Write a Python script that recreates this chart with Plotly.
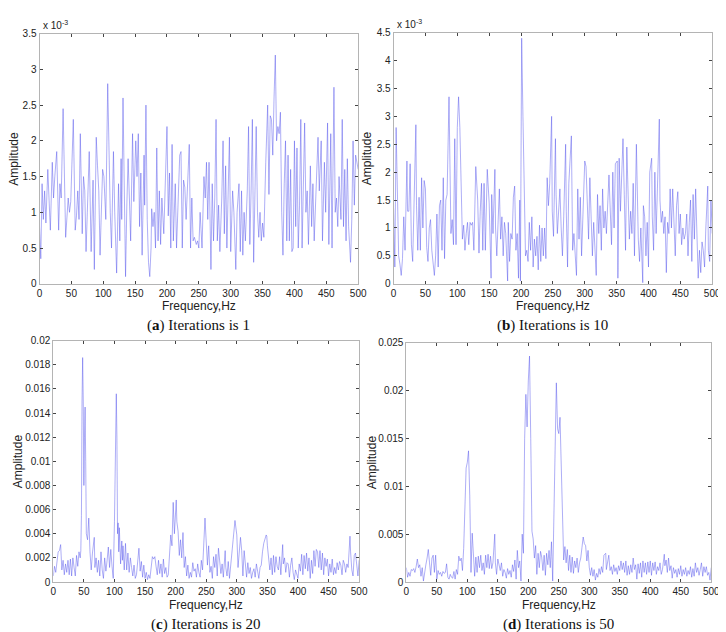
import plotly.graph_objects as go

# ---------------- data (amplitude of a/b in units of 1e-3, c/d in units of 1e-3 too) ----------------
freq_a = [0,2,4,6,8,10,13,15,17,20,22,24,27,30,32,34,37,41,43,45,47,49,53,56,58,60,62,64,67,69,71,73,75,78,81,84,86,89,91,93,95,97,99,101,104,107,109,111,113,116,118,121,124,126,128,129,131,133,135,137,139,141,143,146,148,151,153,155,157,159,161,164,165,167,169,171,173,175,176,178,180,182,184,186,188,190,192,195,198,200,202,204,206,208,210,213,215,218,220,222,224,226,228,230,232,235,237,239,241,243,246,248,250,252,255,258,260,262,264,266,269,271,273,275,277,279,281,283,286,288,290,292,294,296,298,300,303,305,308,310,313,315,317,319,321,323,326,328,330,332,334,336,338,340,342,344,346,348,350,352,355,358,360,362,364,366,368,370,372,374,376,378,380,382,384,386,388,390,392,394,396,398,400,402,404,406,408,410,412,414,416,418,420,422,425,427,429,431,434,437,439,442,444,447,449,452,454,457,459,462,464,466,468,470,473,475,477,479,481,483,485,488,490,492,494,496,500]
amp_a = [0.8,0.35,1.4,0.9,1.3,0.85,1.6,1.1,0.75,1.7,1.2,1.5,1.85,0.75,1.4,1.2,2.45,0.65,1.0,1.2,1.0,1.15,2.3,0.75,0.95,1.3,0.9,2.1,0.7,1.5,1.3,0.45,1.0,1.85,0.45,1.45,0.2,2.05,1.65,1.3,0.4,1.2,1.6,1.5,0.9,2.8,1.6,1.0,0.5,1.85,1.0,0.15,1.4,0.6,1.75,0.9,2.6,1.5,0.1,1.1,1.75,1.2,0.6,2.1,1.15,2.0,1.5,2.1,0.8,1.55,0.4,1.8,1.1,2.5,0.9,0.3,0.1,0.5,1.05,0.8,1.0,0.5,1.9,0.6,1.3,0.55,1.2,0.7,1.6,2.2,0.95,1.55,0.5,1.95,0.6,1.4,0.5,1.2,1.8,1.85,0.5,1.45,1.35,0.9,1.4,1.95,0.5,1.2,0.6,0.65,0.55,0.6,0.5,1.0,0.5,1.5,1.2,1.7,0.9,1.7,0.2,1.4,0.6,1.2,2.3,0.6,1.1,0.45,1.2,2.0,0.7,1.65,0.5,1.2,2.05,0.45,1.3,1.0,0.2,1.0,1.4,0.45,1.3,0.4,1.0,0.6,1.3,2.2,0.55,1.3,2.3,0.3,1.2,2.2,1.0,0.65,1.0,0.6,0.85,0.65,1.7,2.5,1.25,2.35,2.3,1.8,2.6,3.2,2.0,2.2,2.1,2.4,1.0,0.4,1.4,2.0,0.6,1.8,0.6,1.6,0.45,0.5,2.0,0.8,1.9,0.5,1.1,2.3,0.5,1.5,2.25,1.0,1.3,0.55,1.65,0.8,1.4,0.6,1.3,2.05,1.3,2.0,0.6,1.7,1.0,2.25,0.55,2.1,0.5,2.75,1.0,1.2,0.8,1.5,0.9,2.3,0.8,1.6,0.6,1.75,0.8,0.3,0.9,2.0,1.1,1.8,1.6]

freq_b = [0,2,4,6,8,10,12,14,16,18,21,22,24,26,28,30,32,35,36,38,40,42,44,46,48,50,52,54,56,58,60,62,64,66,68,70,72,74,76,78,80,82,84,87,88,90,92,94,96,98,100,102,104,106,108,110,112,114,116,118,120,122,124,126,128,129,132,134,136,138,140,142,144,146,147,150,153,154,156,159,160,162,164,166,168,170,172,174,176,179,180,182,184,186,188,190,192,194,196,198,199,201,203,205,207,209,211,213,215,217,219,221,223,225,227,229,231,233,235,237,239,241,243,245,248,249,251,254,255,257,259,261,263,265,267,270,271,273,275,279,281,283,287,289,291,293,295,300,302,304,306,308,310,312,314,318,320,322,324,326,328,330,332,334,338,340,342,344,346,348,351,352,354,356,360,362,364,366,368,370,372,374,376,378,381,382,384,386,388,391,392,394,396,398,400,402,405,406,408,410,412,414,417,418,420,422,424,426,428,430,432,434,436,438,440,442,444,446,448,450,452,454,456,458,460,462,464,466,468,470,472,474,478,480,482,484,486,488,490,493,494,496,498,500]
amp_b = [1.35,0.3,2.8,1.5,0.5,0.35,0.15,0.45,1.2,0.6,2.2,1.3,1.3,2.15,0.7,0.4,1.5,2.85,1.4,0.6,1.55,0.6,1.9,1.0,1.85,1.7,0.65,0.4,1.0,1.15,0.6,0.3,0.15,0.5,1.25,0.3,1.4,1.5,0.6,1.9,0.45,1.5,1.6,3.35,2.2,0.9,1.15,0.7,2.6,0.7,2.8,3.35,2.8,1.5,0.8,1.05,0.6,0.9,1.1,0.7,1.1,1.05,1.1,0.6,1.5,2.1,1.5,0.55,1.3,1.8,0.6,1.8,0.6,1.55,2.05,1.45,0.1,1.6,0.9,2.05,1.0,0.5,1.35,1.7,0.8,1.2,0.5,1.1,0.9,0.05,1.1,0.4,0.9,0.8,1.55,1.75,0.6,0.9,0.1,1.5,0.05,4.4,3.0,1.5,0.5,0.6,0.4,1.1,0.6,1.2,0.3,0.8,0.5,0.85,0.25,1.05,0.4,1.0,0.5,1.0,0.45,1.9,1.4,1.8,3.0,1.3,0.85,2.6,1.6,0.9,1.4,1.7,1.0,0.5,1.2,2.5,1.3,0.3,1.8,2.65,0.6,0.9,0.15,1.7,0.8,1.55,0.5,2.2,2.1,1.5,0.8,1.9,1.2,0.5,1.1,0.15,1.6,0.9,1.4,0.6,1.7,1.0,1.3,0.9,1.95,1.15,0.7,2.0,1.0,2.15,2.2,0.1,2.25,1.3,2.6,1.6,0.6,2.45,1.3,0.8,1.3,0.9,1.8,0.5,2.5,1.6,0.8,0.4,1.0,0.02,1.4,1.2,0.5,1.1,0.3,2.0,2.25,1.2,0.6,2.0,0.9,1.7,2.95,1.5,1.1,1.3,0.9,1.2,0.2,1.1,0.9,1.7,1.0,1.7,1.15,0.5,1.4,1.65,0.9,1.25,0.7,1.0,0.8,0.9,1.25,0.5,1.1,1.5,0.4,1.6,0.8,1.7,0.1,0.6,0.2,0.75,0.6,0.3,1.0,1.75,0.6,0.4,1.5,0.9]

freq_c = [0,2,4,6,8,10,12,14,16,18,20,22,24,26,28,30,32,34,36,38,40,42,44,45,46,47,48,49,50,51,52,53,54,56,58,60,62,64,67,68,70,72,74,76,78,80,82,84,86,88,90,92,94,96,98,100,101,103,104,105,106,107,108,110,112,113,114,116,118,120,122,124,126,128,130,132,134,136,140,142,144,146,148,150,152,154,156,158,160,162,164,166,168,170,172,174,176,178,180,182,184,186,188,190,192,194,196,198,201,202,204,206,208,210,212,214,216,218,220,222,224,226,228,230,232,234,236,238,240,242,244,248,249,250,252,254,256,258,260,262,264,266,268,270,272,274,276,278,281,282,284,286,288,290,292,294,297,298,300,302,304,306,308,310,312,314,316,318,320,322,324,326,328,330,332,334,336,338,340,342,344,348,349,350,352,354,356,358,360,362,364,366,368,370,372,375,376,378,380,382,384,386,388,390,392,394,396,398,400,402,404,406,408,410,412,414,416,418,420,422,424,426,428,430,432,434,436,438,440,442,444,446,448,450,452,454,456,458,460,462,464,466,468,470,472,474,476,478,480,482,485,486,488,490,492,494,496,498,500]
amp_c = [0.5,1.3,0.8,2.0,2.5,2.6,3.1,1.0,1.8,0.6,1.5,0.8,1.8,0.6,1.9,0.5,2.0,1.2,0.5,2.2,1.3,2.5,2.0,2.6,5.5,15.0,18.6,15.0,8.0,12.0,14.5,10.0,4.0,3.5,5.3,2.5,1.0,2.4,3.7,1.2,2.0,0.8,1.8,0.5,2.5,1.0,0.3,2.0,0.9,1.8,2.9,1.2,2.7,1.3,0.3,5.0,10.0,15.6,12.0,4.0,4.9,2.5,4.5,1.5,3.4,1.8,3.0,1.0,3.2,1.0,2.4,0.8,2.0,1.2,0.5,1.4,0.3,0.6,2.8,0.9,1.7,0.4,1.4,0.3,0.8,0.2,0.6,0.3,1.4,2.1,1.9,2.1,1.3,0.6,1.8,0.7,1.5,0.4,1.9,0.7,1.2,0.4,0.6,2.0,3.9,3.0,6.6,4.0,6.8,5.0,4.2,2.2,3.5,2.0,4.1,1.2,2.1,0.5,1.4,0.3,0.8,0.4,1.6,0.9,1.1,0.4,1.5,0.8,0.4,1.8,1.0,5.3,4.0,3.2,1.4,3.0,0.8,1.3,0.3,2.1,1.2,2.3,0.5,2.8,1.5,0.7,1.5,0.4,2.6,1.2,0.5,1.7,0.3,1.2,2.3,3.5,5.1,4.6,3.9,1.2,2.3,3.7,2.6,0.5,2.6,1.5,0.4,1.6,0.7,1.2,0.3,0.8,1.1,0.4,1.5,0.9,0.3,1.2,1.4,2.5,3.2,3.9,3.8,3.0,2.2,1.0,2.0,0.6,2.2,0.8,2.1,1.3,1.0,2.1,0.6,3.1,1.5,2.0,0.8,1.6,1.5,0.4,1.4,2.0,0.8,0.2,1.0,0.7,0.3,1.5,0.9,2.3,0.6,2.2,1.1,2.4,0.9,2.0,0.3,1.8,0.7,2.6,1.3,2.7,2.5,1.2,2.6,1.0,2.4,0.6,2.0,1.3,1.9,0.5,1.5,0.8,1.9,0.6,1.2,0.7,1.6,1.0,1.7,1.4,0.6,1.8,1.5,0.8,1.5,1.2,3.8,2.5,1.0,0.5,2.2,2.4,1.5,0.5,1.8]

freq_d = [0,2,4,6,8,10,12,14,16,18,20,22,24,26,28,30,32,34,36,38,40,42,44,46,48,50,52,54,56,58,60,62,64,66,68,70,72,74,76,78,80,82,84,86,88,90,92,94,96,98,100,102,104,105,106,108,110,112,114,116,118,120,122,124,126,128,130,132,134,136,138,140,142,145,146,148,150,152,154,156,158,160,162,164,166,168,170,172,174,176,178,180,182,184,186,188,190,192,194,196,198,200,202,204,206,208,210,212,214,216,218,220,222,224,226,228,230,232,234,236,238,240,242,244,246,248,250,252,254,256,258,260,262,264,266,268,270,272,274,276,278,280,282,284,286,288,290,292,294,296,298,300,302,304,306,308,310,312,314,316,318,320,322,324,327,328,330,332,334,336,338,340,342,344,346,348,350,352,354,356,358,360,362,364,366,368,370,372,374,376,378,380,382,384,386,388,390,392,394,396,398,400,402,404,406,408,410,412,414,416,418,420,423,424,426,428,430,432,434,436,438,440,442,444,446,448,450,452,454,456,458,460,462,464,466,468,470,472,474,476,478,480,482,484,486,488,490,492,494,496,498,500]
amp_d = [1.5,0.5,1.0,0.6,1.3,1.2,1.4,1.0,1.6,2.4,1.5,1.8,0.6,1.5,0.1,1.2,1.8,2.5,3.4,2.0,0.7,2.5,2.8,1.0,2.8,0.3,1.2,0.8,1.0,0.6,1.1,0.9,1.0,1.9,0.5,0.3,0.8,0.5,0.4,1.1,0.3,1.3,0.8,2.7,2.2,2.5,1.2,3.5,8.0,11.9,12.5,13.7,9.0,3.5,1.0,5.1,2.0,0.6,2.6,1.0,2.7,1.5,2.8,1.2,2.0,0.8,2.8,1.5,2.9,1.4,2.7,1.4,2.0,5.0,2.0,0.8,2.4,1.6,1.2,2.0,0.6,1.3,1.0,0.4,1.4,0.8,1.2,0.5,1.8,1.1,2.3,0.3,3.3,1.5,2.2,0.1,5.0,3.0,15.0,19.6,16.2,21.0,23.6,15.0,5.3,4.5,2.5,3.8,0.8,3.0,1.5,3.2,2.6,1.2,2.8,0.7,3.0,1.8,3.3,1.5,4.2,0.1,8.0,17.5,20.8,16.0,15.5,17.2,12.0,5.0,2.3,3.7,2.0,3.4,1.2,2.8,1.0,2.6,0.9,2.2,1.5,2.5,1.0,2.0,2.5,3.6,4.7,4.0,3.8,2.2,3.3,1.5,0.7,1.5,0.6,1.3,0.2,0.9,0.5,1.4,0.8,1.6,1.0,2.8,3.0,1.3,2.3,2.8,1.2,1.6,0.8,1.8,1.1,1.5,0.8,1.7,1.2,2.2,1.3,2.0,1.0,2.2,0.7,1.7,0.8,1.8,1.0,2.5,1.3,1.8,0.3,1.9,0.9,2.0,0.5,2.2,1.0,2.0,0.8,2.1,1.0,2.2,0.7,2.0,1.2,2.1,0.8,1.6,1.2,2.0,0.8,1.3,2.9,1.7,2.3,1.0,2.5,1.2,1.7,0.4,1.5,0.9,1.3,0.5,1.4,0.8,1.7,0.6,1.3,0.8,1.5,0.6,1.2,0.8,1.6,0.5,1.4,0.6,2.0,1.0,1.5,0.7,1.3,2.0,0.6,1.6,1.0,1.6,0.7,1.0,0.2,1.5]

captions = [("a", "1"), ("b", "10"), ("c", "20"), ("d", "50")]
x_ticks = [0, 50, 100, 150, 200, 250, 300, 350, 400, 450, 500]
y_ticks_a = [0, 0.5, 1, 1.5, 2, 2.5, 3, 3.5]
y_ticks_b = [0, 0.5, 1, 1.5, 2, 2.5, 3, 3.5, 4, 4.5]
y_ticks_c = [0, 0.002, 0.004, 0.006, 0.008, 0.01, 0.012, 0.014, 0.016, 0.018, 0.02]
y_ticks_d = [0, 0.005, 0.01, 0.015, 0.02, 0.025]

# ---------------- layout geometry (pixels) ----------------
W, H = 726, 632
LINE = "rgba(85,85,235,0.8)"
AXC = "#b4b4b4"
TXT = "#222222"
SANS = "Liberation Sans, Arial, sans-serif"
SERIF = "Liberation Serif, Times New Roman, serif"

panels = [
    # x0, x1, ytop, ybot, freq, amp, scale, yticks, ymax
    (29, 353, 20, 275, freq_a, amp_a, 1.0, y_ticks_a, 3.5),
    (389, 713, 19, 275, freq_b, amp_b, 1.0, y_ticks_b, 4.5),
    (43, 354, 333, 579, freq_c, amp_c, 1e-3, y_ticks_c, 0.02),
    (402, 712, 335, 579, freq_d, amp_d, 1e-3, y_ticks_d, 0.025),
]
ytitle_x = [3, 362, 7, 367]

fig = go.Figure()
annotations = []
for i, (x0, x1, yt, yb, fx, fy, sc, yticks, ymax) in enumerate(panels):
    n = "" if i == 0 else str(i + 1)
    fig.add_trace(go.Scatter(
        x=fx, y=[v * sc for v in fy], mode="lines",
        line=dict(color=LINE, width=0.6),
        xaxis="x" + n, yaxis="y" + n, showlegend=False, hoverinfo="skip"))
    common = dict(showline=True, mirror="ticks", linecolor=AXC, linewidth=1,
                  ticks="inside", ticklen=3, tickcolor="#444", tickwidth=1,
                  showgrid=False, zeroline=False,
                  tickfont=dict(family=SANS, size=10, color=TXT))
    fig.update_layout(**{
        "xaxis" + n: dict(domain=[x0 / W, x1 / W], range=[0, 500], tickvals=x_ticks,
                          anchor="y" + n, **common),
        "yaxis" + n: dict(domain=[1 - yb / H, 1 - yt / H], range=[0, ymax], tickvals=yticks,
                          ticktext=[("%g" % v) for v in yticks],
                          anchor="x" + n, **common),
    })
    cx = (x0 + x1) / 2
    # x axis title
    annotations.append(dict(x=cx / W, y=1 - (yb + 23) / H, xref="paper", yref="paper",
                            xanchor="center", yanchor="middle",
                            text="Frequency,Hz", showarrow=False,
                            font=dict(family=SANS, size=12, color=TXT)))
    # y axis title
    annotations.append(dict(x=ytitle_x[i] / W, y=1 - ((yt + yb) / 2) / H, xref="paper", yref="paper",
                            xanchor="center", yanchor="middle",
                            text="Amplitude", textangle=-90, showarrow=False,
                            font=dict(family=SANS, size=12, color=TXT)))
    # caption
    lab, it = captions[i]
    annotations.append(dict(x=cx / W, y=1 - (yb + 43) / H, xref="paper", yref="paper",
                            xanchor="center", yanchor="middle",
                            text="(<b>%s</b>) Iterations is %s" % (lab, it), showarrow=False,
                            font=dict(family=SERIF, size=15, color="#111")))
    if i < 2:
        annotations.append(dict(x=(x0 + 1) / W, y=1 - (yt - 1) / H, xref="paper", yref="paper",
                                xanchor="left", yanchor="bottom",
                                text="x 10<sup>-3</sup>", showarrow=False,
                                font=dict(family=SANS, size=10, color=TXT)))

fig.update_layout(width=W, height=H, margin=dict(l=0, r=0, t=0, b=0),
                  paper_bgcolor="white", plot_bgcolor="white",
                  annotations=annotations)
fig.write_html("out.html")
